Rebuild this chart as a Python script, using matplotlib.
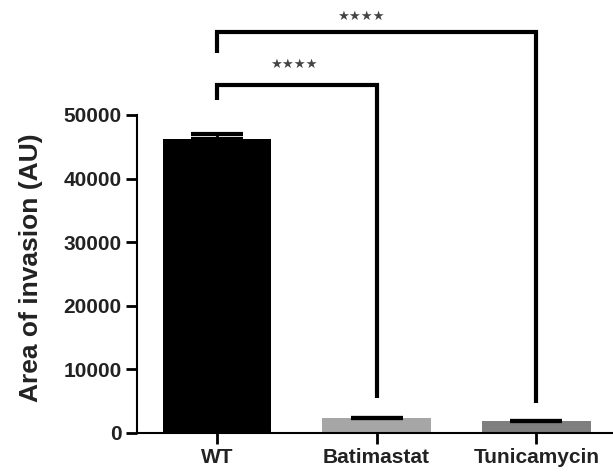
import numpy as np
import matplotlib
matplotlib.use("Agg")
import matplotlib.pyplot as plt

# values
groups = ["WT", "Batimastat", "Tunicamycin"]
means = [46200, 2300, 1850]
sems = [850, 80, 40]
colors = ["#000000", "#a6a6a6", "#7f7f7f"]

# significance brackets: (left group, right group, label)
brackets = [(0, 1, "★★★★"), (0, 2, "★★★★")]
bracket_y = [54700, 63050]
bracket_left_bottom = [52350, 59750]
bracket_right_bottom = [5500, 4700]
star_shift = [-0.02, -0.1]
star_gap = [2300, 1500]

plt.rcParams['font.family'] = ['Liberation Sans', 'DejaVu Sans']

fig = plt.figure(figsize=(6.13, 4.74), dpi=100)
ax = fig.add_axes([137/613, 41/474, 476/613, 433/474])

x = np.arange(len(groups))
ax.bar(x, means, width=0.68, color=colors, zorder=2)
# upper error bars only, like the original
ax.errorbar(x, means, yerr=[np.zeros(len(sems)), sems], fmt="none",
            ecolor="black", elinewidth=2, capsize=19, capthick=3, zorder=3)

for i, (a, b, lab) in enumerate(brackets):
    yb = bracket_y[i]
    ax.plot([x[a], x[a], x[b], x[b]],
            [bracket_left_bottom[i], yb, yb, bracket_right_bottom[i]],
            color="black", lw=3, solid_capstyle="butt",
            solid_joinstyle="miter", clip_on=False)
    ax.text((x[a] + x[b]) / 2 + star_shift[i], yb + star_gap[i], lab,
            ha="center", va="bottom", fontsize=9.5, color="#444444",
            family="DejaVu Sans")

ax.set_xlim(-0.5, 2.48)
ax.set_ylim(0, 68080)
ax.set_yticks([0, 10000, 20000, 30000, 40000, 50000])
ax.set_xticks(x)
ax.set_xticklabels(groups)
ax.spines["top"].set_visible(False)
ax.spines["right"].set_visible(False)
ax.spines["left"].set_bounds(0, 50000)
ax.spines["left"].set_linewidth(1.5)
ax.spines["bottom"].set_linewidth(1.5)
ax.tick_params(axis="both", length=8, width=2, labelsize=15, colors="black",
               labelcolor="#222222", pad=3)
for lab in ax.get_xticklabels() + ax.get_yticklabels():
    lab.set_fontweight("bold")
ax.set_ylabel("Area of invasion (AU)", fontsize=19, fontweight="bold",
              color="#222222")
ax.yaxis.set_label_coords(-0.197, 0.381)

fig.savefig("out.png", dpi=100)
